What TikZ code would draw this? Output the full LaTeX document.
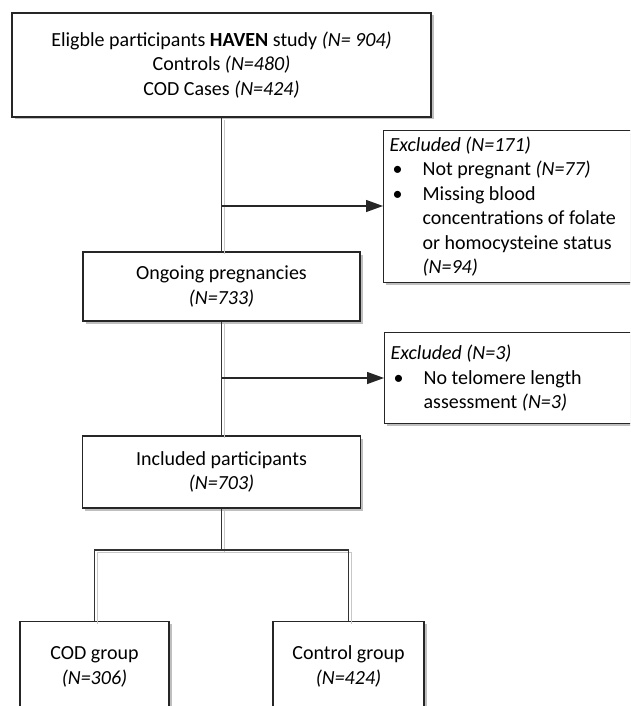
\documentclass[tikz,border=0pt]{standalone}
\usepackage{fontspec}
\setmainfont{Carlito}
\usepackage{tikz}
\usetikzlibrary{arrows.meta, positioning, calc, shadows}

\newcommand{\exitem}{\makebox[33pt][l]{\hspace*{3pt}\textbullet}}

\begin{document}
\begin{tikzpicture}[
  x=1pt, y=-1pt,
  box/.style={draw=black!85, line width=1.3pt, fill=white, align=center, inner sep=4pt,
    font=\fontsize{20}{24.5}\selectfont,
    drop shadow={shadow xshift=2.5pt, shadow yshift=-2.5pt, fill=black!25, opacity=1}},
  exbox/.style={box, align=flush left, anchor=north west, inner sep=6pt, text width=240pt},
  link/.style={draw=black!80, line width=1.3pt,
    preaction={draw=black!22, line width=1.6pt, transform canvas={shift={(2.8pt,-2.5pt)}}}},
  arr/.style={draw=black!85, line width=1.3pt, -{Triangle[length=17pt,width=12pt]}},
]
\clip (0,0) rectangle (630,706);
\useasboundingbox (0,0) rectangle (630,706);

% Boxes
\node[box, minimum width=419pt, minimum height=104pt] (elig) at (221.5,65)
  {Eligble participants \textbf{HAVEN} study \textit{(N= 904)}\\
   Controls \textit{(N=480)}\\
   COD Cases \textit{(N=424)}};
\node[exbox, minimum height=150pt] (excl1) at (383,130)
  {\textit{Excluded (N=171)}\\
   \exitem Not pregnant \textit{(N=77)}\\
   \exitem Missing blood\\
   \hspace*{33pt}concentrations of folate\\
   \hspace*{33pt}or homocysteine status\\
   \hspace*{33pt}\textit{(N=94)}};
\node[box, minimum width=277pt, minimum height=69pt] (ongo) at (221.5,286.5)
  {Ongoing pregnancies\\ \textit{(N=733)}};
\node[exbox, minimum height=91pt] (excl2) at (384,332)
  {\textit{Excluded (N=3)}\\
   \exitem No telomere length\\
   \hspace*{33pt}assessment \textit{(N=3)}};
\node[box, minimum width=278pt, minimum height=72pt] (incl) at (221.5,472)
  {Included participants\\ \textit{(N=703)}};
\node[box, minimum width=149pt, minimum height=90pt, anchor=north] (cod) at (94.5,621)
  {COD group\\ \textit{(N=306)}};
\node[box, minimum width=151pt, minimum height=90pt, anchor=north] (ctrl) at (348.5,621)
  {Control group\\ \textit{(N=424)}};

% Junctions
\coordinate (j1) at (221.5,206);
\coordinate (j2) at (221.5,378);
\coordinate (fork) at (221.5,550);

% Connections
\draw[link] (elig.south) -- (ongo.north);
\draw[link] (ongo.south) -- (incl.north);
\draw[arr] (j1) -- (j1 -| excl1.west);
\draw[arr] (j2) -- (j2 -| excl2.west);
\draw[link] (incl.south) -- (fork);
\draw[link] (cod.north) |- (fork) -| (ctrl.north);

\end{tikzpicture}
\end{document}
